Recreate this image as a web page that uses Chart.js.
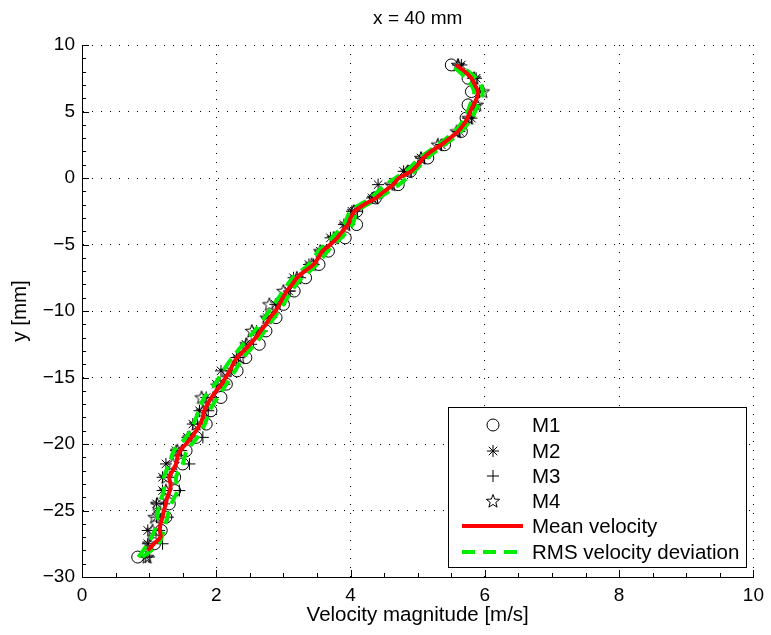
<!DOCTYPE html>
<html>
<head>
<meta charset="utf-8">
<script src="https://cdn.jsdelivr.net/npm/chart.js@4.4.1/dist/chart.umd.min.js"></script>
<style>
  html, body { margin: 0; padding: 0; background: #fff; overflow: hidden; }
  #c { display: block; }
</style>
</head>
<body>
<canvas id="c" width="771" height="635"></canvas>
<script>
// Measurement heights across the jet (mm)
const yLevels = [-28.5,-27.5,-26.5,-25.5,-24.5,-23.5,-22.5,-21.5,-20.5,-19.5,-18.5,-17.5,-16.5,-15.5,-14.5,-13.5,-12.5,-11.5,-10.5,-9.5,-8.5,-7.5,-6.5,-5.5,-4.5,-3.5,-2.5,-1.5,-0.5,0.5,1.5,2.5,3.5,4.5,5.5,6.5,7.5,8.5];

// Velocity magnitude of the four runs (m/s)
const m1 = [0.83,1.08,1.18,1.25,1.30,1.38,1.38,1.50,1.55,1.70,1.85,1.92,2.07,2.15,2.31,2.44,2.64,2.74,2.89,3.00,3.16,3.33,3.53,3.67,3.92,4.09,4.09,4.37,4.71,4.89,5.15,5.40,5.65,5.72,5.75,5.80,5.75,5.50];
const m2 = [0.95,0.98,0.98,1.11,1.11,1.20,1.20,1.25,1.40,1.57,1.65,1.75,1.85,2.00,2.07,2.30,2.44,2.60,2.76,2.88,3.08,3.15,3.38,3.55,3.70,3.90,4.02,4.32,4.41,4.79,5.05,5.35,5.62,5.80,5.85,5.92,5.87,5.65];
const m3 = [1.00,1.20,1.15,1.28,1.22,1.45,1.30,1.60,1.48,1.80,1.72,1.88,1.95,2.12,2.22,2.33,2.52,2.68,2.82,2.95,3.10,3.25,3.45,3.60,3.82,3.98,4.10,4.40,4.62,4.90,5.10,5.35,5.60,5.75,5.85,5.92,5.82,5.60];
const m4 = [0.97,1.00,1.05,1.08,1.12,1.25,1.25,1.35,1.42,1.60,1.70,1.80,1.78,2.05,2.15,2.35,2.45,2.53,2.75,2.79,3.00,3.20,3.42,3.55,3.75,3.93,4.05,4.35,4.60,4.85,5.05,5.30,5.58,5.76,5.88,5.97,5.84,5.60];

// Mean velocity profile
const meanY = [-28,-27.5,-27,-26.5,-26,-25.5,-25,-24.5,-24,-23.5,-23,-22.5,-22,-21.5,-21,-20.5,-20,-19.5,-19,-18.5,-18,-17.5,-17,-16.5,-16,-15.5,-15,-14.5,-14,-13.5,-13,-12.5,-12,-11.5,-11,-10.5,-10,-9.5,-9,-8.5,-8,-7.5,-7,-6.5,-6,-5.5,-5,-4.5,-4,-3.5,-3,-2.5,-2,-1.5,-1,-0.5,0,0.5,1,1.5,2,2.5,3,3.5,4,4.5,5,5.5,6,6.5,7,7.5,8,8.5];
const meanV = [0.98,1.07,1.17,1.16,1.17,1.20,1.22,1.25,1.27,1.31,1.32,1.30,1.35,1.40,1.42,1.46,1.55,1.63,1.70,1.76,1.80,1.82,1.87,1.93,2.00,2.08,2.14,2.20,2.25,2.31,2.41,2.50,2.59,2.66,2.74,2.80,2.88,2.94,2.99,3.05,3.13,3.20,3.32,3.45,3.52,3.58,3.70,3.80,3.88,3.96,4.00,4.06,4.20,4.38,4.50,4.63,4.72,4.90,5.00,5.08,5.20,5.35,5.48,5.60,5.68,5.74,5.78,5.83,5.88,5.90,5.85,5.80,5.70,5.57];

// RMS deviation band around the mean (lower / upper)
const rmsLow  = [0.84,0.98,1.08,1.12,1.15,1.22,1.22,1.30,1.37,1.55,1.66,1.74,1.82,1.98,2.10,2.24,2.40,2.57,2.72,2.86,3.00,3.14,3.38,3.52,3.72,3.90,4.00,4.30,4.52,4.82,5.03,5.30,5.55,5.70,5.78,5.84,5.72,5.50];
const rmsHigh = [0.90,1.14,1.22,1.27,1.33,1.42,1.40,1.50,1.56,1.72,1.83,1.90,2.02,2.15,2.28,2.40,2.58,2.72,2.86,3.00,3.12,3.28,3.50,3.66,3.86,4.03,4.10,4.42,4.72,4.95,5.14,5.40,5.65,5.80,5.90,5.97,5.87,5.62];

const xTicks = [0, 2, 4, 6, 8, 10];
const yTicks = [-30, -25, -20, -15, -10, -5, 0, 5, 10];

const FONT = '"Liberation Sans", Arial, Helvetica, sans-serif';

function pts(xs, ys) { return xs.map((v, i) => ({ x: v, y: ys[i] })); }

// Outlined five-pointed star used as a point style
function pentagram(r) {
  const s = Math.ceil(2 * r + 4);
  const c = document.createElement('canvas');
  c.width = c.height = s;
  const g = c.getContext('2d');
  g.translate(s / 2, s / 2 + 0.5);
  g.beginPath();
  for (let i = 0; i < 10; i++) {
    const a = -Math.PI / 2 + i * Math.PI / 5;
    const rr = (i % 2) ? r * 0.42 : r;
    g.lineTo(rr * Math.cos(a), rr * Math.sin(a));
  }
  g.closePath();
  g.strokeStyle = '#000';
  g.lineWidth = 1;
  g.stroke();
  return c;
}
const starImg = pentagram(7);

const markerSets = [
  { label: 'M1', data: m1, style: 'circle', r: 6 },
  { label: 'M2', data: m2, style: 'star', r: 6 },
  { label: 'M3', data: m3, style: 'cross', r: 6 },
  { label: 'M4', data: m4, style: starImg, r: 7 }
];

const datasets = [
  { label: 'Mean velocity', data: pts(meanV, meanY), showLine: true, borderColor: '#ff0000', borderWidth: 4, pointRadius: 0, tension: 0.3, order: 0 },
  { label: 'RMS velocity deviation', data: pts(rmsLow, yLevels), showLine: true, borderColor: '#00ee00', borderWidth: 4, borderDash: [13, 8], pointRadius: 0, tension: 0.3, order: 1 },
  { label: 'RMS upper', data: pts(rmsHigh, yLevels), showLine: true, borderColor: '#00ee00', borderWidth: 4, borderDash: [13, 8], pointRadius: 0, tension: 0.3, order: 1 }
];
markerSets.forEach((m, i) => datasets.push({
  label: m.label, data: pts(m.data, yLevels), showLine: false,
  pointStyle: m.style, pointRadius: m.r, pointBorderWidth: 1,
  pointBorderColor: '#000', pointBackgroundColor: 'rgba(0,0,0,0)', order: 2 + i
}));

const fmt = v => String(v).replace('-', '\u2212');

// Inward major/minor tick marks on the left and bottom axes
const tickMarks = {
  id: 'tickMarks',
  afterDatasetsDraw(chart) {
    const { ctx, chartArea: a, scales: { x, y } } = chart;
    ctx.save();
    ctx.strokeStyle = '#000';
    ctx.lineWidth = 1;
    ctx.beginPath();
    for (let v = 0; v <= 10.001; v += 0.5) {
      const px = Math.round(x.getPixelForValue(v)) + 0.5;
      const major = Math.abs(v / 2 - Math.round(v / 2)) < 1e-6;
      ctx.moveTo(px, a.bottom); ctx.lineTo(px, a.bottom - (major ? 7 : 4));
    }
    for (let v = -30; v <= 10.001; v += 1) {
      const py = Math.round(y.getPixelForValue(v)) + 0.5;
      const major = v % 5 === 0;
      ctx.moveTo(a.left, py); ctx.lineTo(a.left + (major ? 7 : 4), py);
    }
    ctx.stroke();
    ctx.restore();
  }
};

// Title, axis titles and the boxed legend
const annotations = {
  id: 'annotations',
  afterDraw(chart) {
    const { ctx, chartArea: a } = chart;
    ctx.save();
    ctx.fillStyle = '#000';
    ctx.textAlign = 'center';
    ctx.textBaseline = 'middle';
    const cx = (a.left + a.right) / 2;
    ctx.font = '19px ' + FONT;
    ctx.fillText('x = 40 mm', cx, 19);
    ctx.font = '20.5px ' + FONT;
    ctx.fillText('Velocity magnitude [m/s]', cx, 615);
    ctx.save();
    ctx.translate(20, (a.top + a.bottom) / 2);
    ctx.rotate(-Math.PI / 2);
    ctx.fillText('y [mm]', 0, 0);
    ctx.restore();

    // legend box
    const bx = 448, by = 407, bw = 298, bh = 160;
    ctx.fillStyle = '#fff';
    ctx.fillRect(bx, by, bw, bh);
    ctx.strokeStyle = '#000';
    ctx.lineWidth = 1;
    ctx.strokeRect(bx + 0.5, by + 0.5, bw, bh);

    const rowY = [425, 451, 476, 501, 526, 552];
    const labels = ['M1', 'M2', 'M3', 'M4', 'Mean velocity', 'RMS velocity deviation'];
    markerSets.forEach((m, i) => {
      ctx.save();
      ctx.strokeStyle = '#000';
      ctx.fillStyle = 'rgba(0,0,0,0)';
      ctx.lineWidth = 1;
      Chart.helpers.drawPoint(ctx, { pointStyle: m.style, radius: m.r, rotation: 0, borderWidth: 1 }, 493, rowY[i]);
      ctx.restore();
    });
    ctx.lineWidth = 4;
    ctx.strokeStyle = '#ff0000';
    ctx.beginPath(); ctx.moveTo(462, rowY[4]); ctx.lineTo(523, rowY[4]); ctx.stroke();
    ctx.strokeStyle = '#00ee00';
    ctx.setLineDash([13, 8]);
    ctx.beginPath(); ctx.moveTo(462, rowY[5]); ctx.lineTo(523, rowY[5]); ctx.stroke();
    ctx.setLineDash([]);

    ctx.fillStyle = '#000';
    ctx.font = '20.5px ' + FONT;
    ctx.textAlign = 'left';
    labels.forEach((t, i) => ctx.fillText(t, 532, rowY[i] + 1));
    ctx.restore();
  }
};

new Chart(document.getElementById('c'), {
  type: 'scatter',
  data: { datasets },
  options: {
    responsive: false,
    animation: false,
    devicePixelRatio: 1,
    layout: { padding: { left: 0, right: 14, top: 45, bottom: 0 } },
    plugins: { legend: { display: false }, tooltip: { enabled: false } },
    scales: {
      x: {
        type: 'linear', min: 0, max: 10,
        afterBuildTicks: s => { s.ticks = xTicks.map(v => ({ value: v })); },
        afterFit: s => { s.height = 58; },
        ticks: { padding: 7, color: '#000', font: { family: FONT, size: 19 }, callback: fmt, maxRotation: 0 },
        grid: { color: '#000', lineWidth: 1, drawTicks: false },
        border: { display: true, color: '#000', width: 1, dash: [1, 8] }
      },
      y: {
        type: 'linear', min: -30, max: 10,
        afterBuildTicks: s => { s.ticks = yTicks.map(v => ({ value: v })); },
        afterFit: s => { s.width = 82; },
        ticks: { padding: 7, color: '#000', font: { family: FONT, size: 19 }, callback: fmt },
        grid: { color: '#000', lineWidth: 1, drawTicks: false },
        border: { display: true, color: '#000', width: 1, dash: [1, 8] }
      }
    }
  },
  plugins: [tickMarks, annotations]
});
</script>
</body>
</html>
